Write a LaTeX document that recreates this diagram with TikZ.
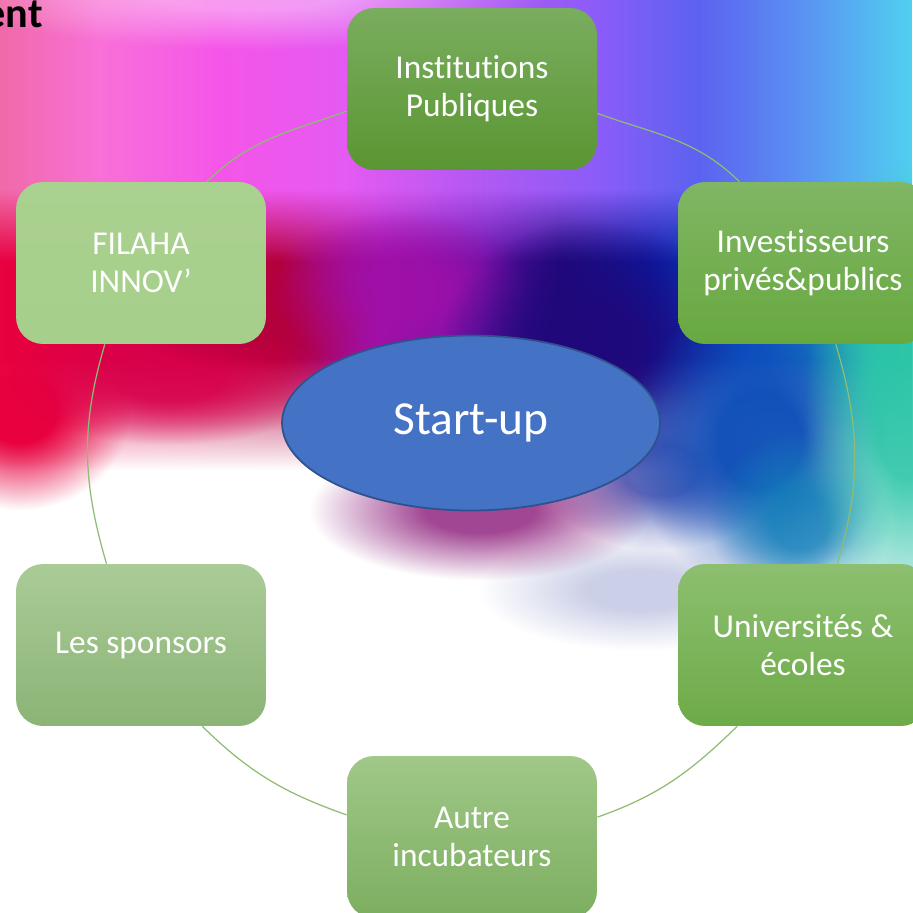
\documentclass[tikz,border=0pt]{standalone}
\usepackage{fontspec}
\setmainfont{Carlito}[Ligatures={NoCommon,NoContextual}, Contextuals=NoAlternate]
\usetikzlibrary{shapes.geometric,fadings}

\definecolor{startfill}{HTML}{4472C4}
\definecolor{startline}{HTML}{2F528F}
\definecolor{arcgreen}{HTML}{8FBC72}

\definecolor{tb0}{HTML}{F06AA8}
\definecolor{tb1}{HTML}{F870D8}
\definecolor{tb2}{HTML}{F555E8}
\definecolor{tb3}{HTML}{E45AF2}
\definecolor{tb4}{HTML}{B658F2}
\definecolor{tb5}{HTML}{8A5CF8}
\definecolor{tb6}{HTML}{5C62F0}
\definecolor{tb7}{HTML}{5A90F2}
\definecolor{tb8}{HTML}{50D0F0}

\definecolor{mb0}{HTML}{E8003F}
\definecolor{mb1}{HTML}{D8004A}
\definecolor{mb2}{HTML}{B4003C}
\definecolor{mb3}{HTML}{A010A8}
\definecolor{mb4}{HTML}{6A10A8}
\definecolor{mb5}{HTML}{20087A}
\definecolor{mb6}{HTML}{0A1AA0}
\definecolor{mb7}{HTML}{0E50C8}
\definecolor{mb8}{HTML}{30D0B0}

\definecolor{bl1}{HTML}{0E4FB8}
\definecolor{bl2}{HTML}{1080B8}
\definecolor{bl3}{HTML}{2CC5A8}
\definecolor{bl4}{HTML}{A0E0D8}
\definecolor{bl5}{HTML}{98A0D0}
\definecolor{bl6}{HTML}{8A1878}
\definecolor{bl7}{HTML}{3040A8}

\pgfdeclarehorizontalshading{topband}{100bp}{color(0bp)=(tb0); color(25bp)=(tb0); color(30.5bp)=(tb1); color(37bp)=(tb2); color(44bp)=(tb3); color(50.7bp)=(tb4); color(57.9bp)=(tb5); color(63.3bp)=(tb6); color(68.8bp)=(tb7); color(75bp)=(tb8); color(100bp)=(tb8)}
\pgfdeclarehorizontalshading{midband}{100bp}{color(0bp)=(mb0); color(25bp)=(mb0); color(33.2bp)=(mb1); color(40.3bp)=(mb2); color(45.8bp)=(mb3); color(51.3bp)=(mb4); color(55.7bp)=(mb5); color(60.6bp)=(mb6); color(66.6bp)=(mb7); color(75bp)=(mb8); color(100bp)=(mb8)}

\pgfdeclareverticalshading{topmask}{100bp}{color(0bp)=(black); color(25bp)=(black); color(45bp)=(white); color(100bp)=(white)}
\pgfdeclarefading{topfade}{\pgfuseshading{topmask}}
\pgfdeclareverticalshading{midmask}{100bp}{color(0bp)=(black); color(25bp)=(black); color(45bp)=(white); color(62bp)=(white); color(75bp)=(black); color(100bp)=(black)}
\pgfdeclarefading{midfade}{\pgfuseshading{midmask}}
\pgfdeclareradialshading{blobmask}{\pgfpointorigin}{color(0bp)=(white); color(8bp)=(white); color(25bp)=(black); color(50bp)=(black)}
\pgfdeclarefading{blob}{\pgfuseshading{blobmask}}

\begin{document}
\begin{tikzpicture}[x=0.02cm, y=0.02cm,
	boite/.style={rectangle, rounded corners=0.54cm, minimum width=5cm, minimum height=3.24cm, inner sep=0pt, text=white, align=center, font=\fontsize{19}{21.5}\selectfont},
	arcline/.style={draw=arcgreen, line width=0.7pt},
	startup/.style={ellipse, fill=startfill, draw=startline, line width=1pt, minimum width=7.56cm, minimum height=3.5cm, text=white, font=\fontsize{27}{32}\selectfont}]
		\useasboundingbox (0,0) rectangle (913,-913);
		\clip (0,0) rectangle (913,-913);
		\fill[white] (0,0) rectangle (913,-913);
		\shade[shading=topband, path fading=topfade] (0,0) rectangle (913,-430);
		\shade[shading=midband, path fading=midfade] (0,-190) rectangle (913,-470);
		\foreach \cx/\cy/\rx/\ry/\col/\op in {250/-10/300/60/white/0.4, 20/410/110/100/mb0/1, 170/380/160/65/mb1/0.85, 250/310/130/60/mb2/0.8, 400/290/130/80/mb3/0.8, 590/350/150/130/mb5/0.9, 660/470/120/80/bl7/0.8, 760/440/130/150/bl1/0.95, 800/520/90/90/bl2/0.8, 905/400/100/240/bl3/0.9, 880/600/80/60/bl4/0.7, 640/590/160/60/bl5/0.5, 480/510/170/70/bl6/0.8} {
			\fill[\col, opacity=\op, path fading=blob] (\cx-\rx,-\cy+\ry) rectangle (\cx+\rx,-\cy-\ry);
		}
		\node[anchor=base east, inner sep=0pt, font=\bfseries\fontsize{24}{28}\selectfont] (titre) at (43,-27) {ent};
		\node[boite, top color={rgb,255:red,122;green,173;blue,95}, bottom color={rgb,255:red,90;green,150;blue,50}] (inst) at (472,-89) {Institutions\\Publiques};
		\node[boite, top color={rgb,255:red,128;green,182;blue,100}, bottom color={rgb,255:red,104;green,168;blue,64}] (inv) at (803,-263) {Investisseurs\\privés\&publics};
		\node[boite, top color={rgb,255:red,170;green,209;blue,143}, bottom color={rgb,255:red,166;green,207;blue,139}] (fil) at (141,-263) {FILAHA\\INNOV’};
		\node[boite, top color={rgb,255:red,170;green,203;blue,151}, bottom color={rgb,255:red,139;green,180;blue,118}] (spo) at (141,-645) {Les sponsors};
		\node[boite, top color={rgb,255:red,140;green,191;blue,111}, bottom color={rgb,255:red,109;green,170;blue,72}] (uni) at (803,-645) {Universités \&\\écoles};
		\node[boite, top color={rgb,255:red,160;green,200;blue,136}, bottom color={rgb,255:red,124;green,174;blue,96}] (aut) at (472,-837) {Autre\\incubateurs};
		\draw[arcline] (fil.51.7) to[out=44.4, in=200] (inst.190.4);
		\draw[arcline] (inst.349.6) to[out=-20, in=135.6] (inv.128.3);
		\draw[arcline] (inv.292.6) to[out=-73.6, in=73.7] (uni.67.1);
		\draw[arcline] (uni.231.9) to[out=224.3, in=19.4] (aut.9.8);
		\draw[arcline] (aut.170.2) to[out=160.6, in=315.6] (spo.307.6);
		\draw[arcline] (spo.113.4) to[out=106.3, in=253.6] (fil.246.8);
		\node[startup] (start) at (471,-423) {Start-up};
	\end{tikzpicture}
\end{document}
